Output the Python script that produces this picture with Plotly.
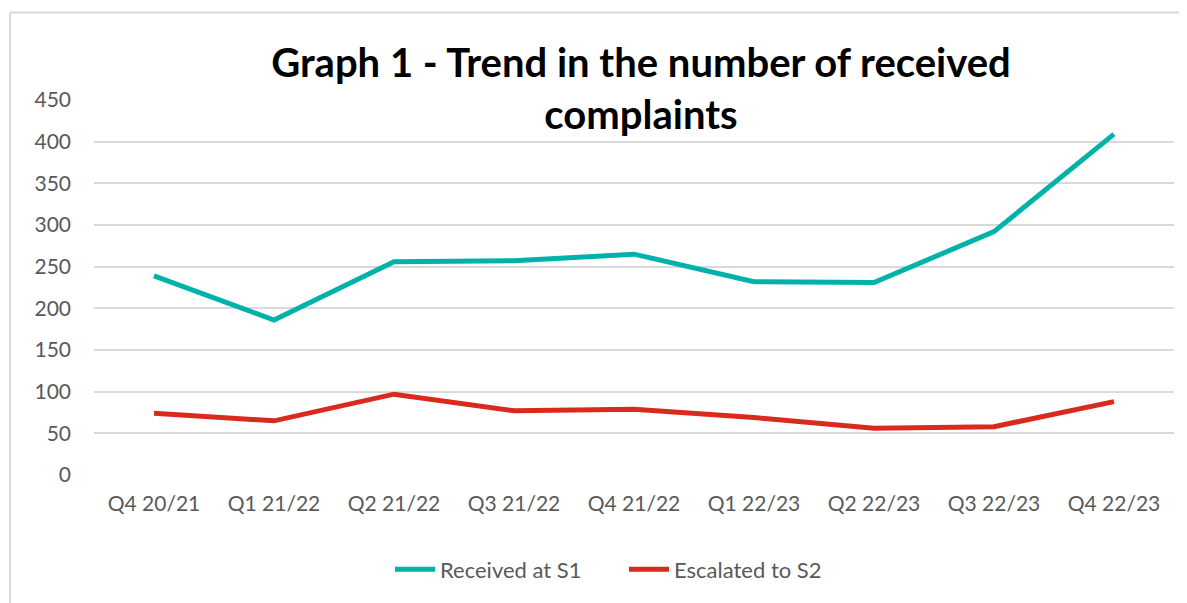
import plotly.graph_objects as go

quarters = ["Q4 20/21", "Q1 21/22", "Q2 21/22", "Q3 21/22", "Q4 21/22",
            "Q1 22/23", "Q2 22/23", "Q3 22/23", "Q4 22/23"]
received_s1 = [239, 186, 256, 257, 265, 232, 231, 292, 409]
escalated_s2 = [74, 65, 97, 77, 79, 69, 56, 58, 88]
y_ticks = [0, 50, 100, 150, 200, 250, 300, 350, 400, 450]

FONT = "Lato"
TICK_COLOR = "#595959"
GRID = "#D9D9D9"

OFF = 8  # default page body margin
PAGE_W, PAGE_H = 1187, 603
W, H = PAGE_W - OFF, PAGE_H - OFF
# plot area in page pixels: x 94..1174, y 100..477
L, R, T, B = 94 - OFF, PAGE_W - 1174, 100 - OFF, PAGE_H - 477
PW, PH = W - L - R, H - T - B


def px_x(px):
    return (px - OFF - L) / PW


def px_y(py):
    return (H - B - (py - OFF)) / PH


fig = go.Figure()
fig.add_trace(go.Scatter(x=quarters, y=received_s1, mode="lines", name="Received at S1",
                         line=dict(color="#00B2A9", width=5)))
fig.add_trace(go.Scatter(x=quarters, y=escalated_s2, mode="lines", name="Escalated to S2",
                         line=dict(color="#DC291E", width=5)))

fig.update_layout(
    width=W, height=H,
    margin=dict(l=L, r=R, t=T, b=B, pad=0),
    paper_bgcolor="white", plot_bgcolor="white",
    font=dict(family=FONT, color=TICK_COLOR, size=21),
    title=dict(text="<b>Graph 1 - Trend in the number of received<br>complaints</b>",
               font=dict(family=FONT, size=40, color="black"),
               xref="paper", x=px_x(641), xanchor="center",
               yref="container", y=1 - (77 - OFF) / H, yanchor="middle"),
    xaxis=dict(type="category", range=[-0.5, len(quarters) - 0.5],
               showgrid=False, showline=False, zeroline=False, ticks="",
               ticklabelstandoff=14, tickfont=dict(size=21, color=TICK_COLOR)),
    yaxis=dict(range=[0, 450], tickvals=y_ticks, showgrid=True, gridcolor=GRID,
               gridwidth=1.5, zeroline=False, showline=False, ticks="",
               ticklabelstandoff=22, tickfont=dict(size=21, color=TICK_COLOR)),
    legend=dict(orientation="h", x=px_x(390), xanchor="left",
                y=px_y(572), yanchor="middle",
                font=dict(size=22, color=TICK_COLOR), itemwidth=40,
                entrywidth=179, entrywidthmode="pixels",
                bgcolor="rgba(0,0,0,0)"),
    showlegend=True,
)

# chart-area border (top and left edges visible)
fig.add_shape(type="line", xref="paper", yref="paper",
              x0=px_x(10), x1=px_x(PAGE_W + 5), y0=px_y(12), y1=px_y(12),
              line=dict(color=GRID, width=2))
fig.add_shape(type="line", xref="paper", yref="paper",
              x0=px_x(10), x1=px_x(10), y0=px_y(12), y1=px_y(PAGE_H + 5),
              line=dict(color=GRID, width=2))

fig.write_html("out.html")
